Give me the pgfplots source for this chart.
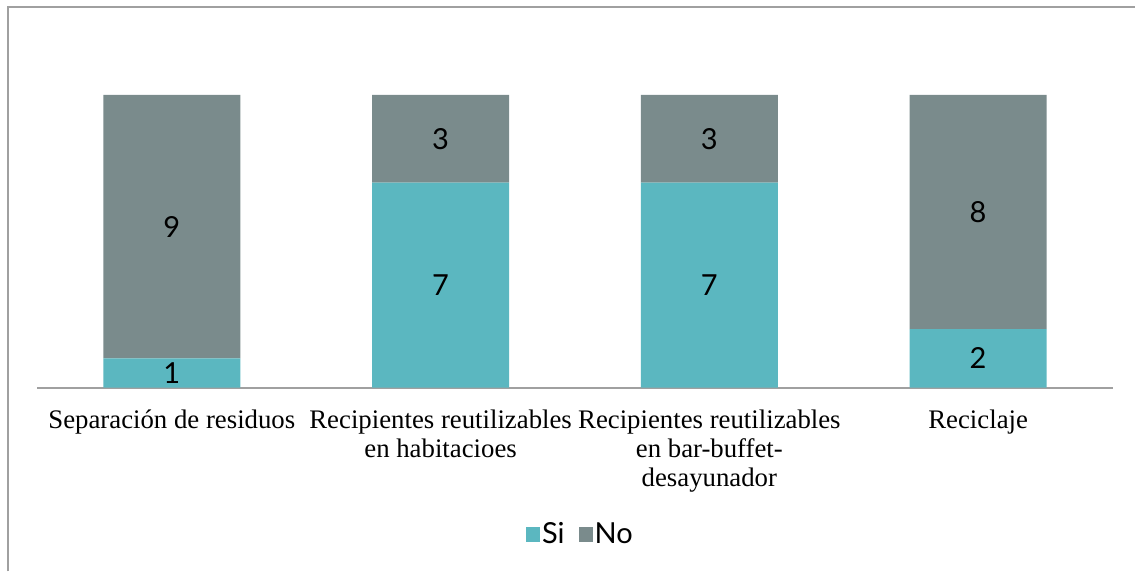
\documentclass[border=0pt]{standalone}
\usepackage{pgfplots}
\usepackage{pgfplotstable}
\pgfplotsset{compat=1.18}
\usepackage{fontspec}
\setmainfont{Liberation Serif}
\newfontfamily\gill{Lato}
\definecolor{si}{RGB}{91,183,192}
\definecolor{no}{RGB}{122,139,140}
\definecolor{framec}{RGB}{160,160,160}
\pgfplotstableread{
x si no simid nomid
0 1 9 0.5 5.5
1 7 3 3.5 8.5
2 7 3 3.5 8.5
3 2 8 1 6
}\data
\begin{document}
\begin{tikzpicture}
\path (0pt,0pt) rectangle (1136pt,572pt);
\draw[framec, line width=2pt] (8pt,0pt) -- (8pt,565pt) -- (1136pt,565pt);
\begin{axis}[
  at={(37.5pt,184pt)}, anchor=south west,
  scale only axis, width=1076pt, height=293pt,
  xmin=-0.5, xmax=3.5, ymin=0, ymax=10,
  ybar stacked, bar width=137pt,
  axis x line*=bottom, axis y line=none,
  x axis line style={framec, line width=2pt},
  xtick={0,1,2,3}, ytick=\empty,
  major tick length=0pt,
  xticklabels={Separación de residuos, {Recipientes reutilizables\\en habitacioes}, {Recipientes reutilizables\\en bar-buffet-\\desayunador}, Reciclaje},
  xticklabel style={align=center, font=\fontsize{26.8}{29}\selectfont, yshift=-19pt},
  legend style={at={(0.505,-0.5)}, anchor=center, draw=none, legend columns=2,
    font=\gill\fontsize{29}{32}\selectfont,
    /tikz/every even column/.style={column sep=12pt}},
]
\addplot[fill=si, draw=none, legend image code/.code={\fill[si] (0pt,-7.5pt) rectangle (14pt,7.5pt);}] table[x=x,y=si] \data;
\addlegendentry{Si}
\addplot[fill=no, draw=none, legend image code/.code={\fill[no] (0pt,-7.5pt) rectangle (14pt,7.5pt);}] table[x=x,y=no] \data;
\addlegendentry{No}
\end{axis}
\begin{axis}[
  at={(37.5pt,184pt)}, anchor=south west,
  scale only axis, width=1076pt, height=293pt,
  xmin=-0.5, xmax=3.5, ymin=0, ymax=10,
  hide axis,
  nodes near coords, point meta=explicit symbolic,
  every node near coord/.style={anchor=center, font=\gill\fontsize{29}{32}\selectfont, text=black},
]
\addplot[draw=none, mark=none] table[x=x, y=simid, meta=si] \data;
\addplot[draw=none, mark=none] table[x=x, y=nomid, meta=no] \data;
\end{axis}
\end{tikzpicture}
\end{document}
